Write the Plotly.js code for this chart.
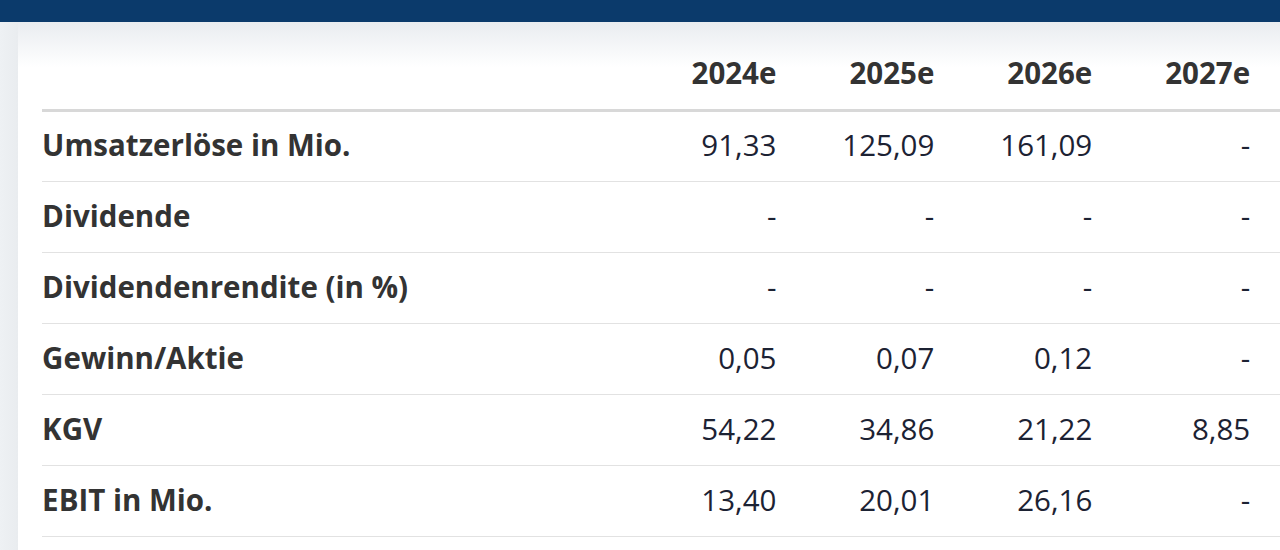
<!DOCTYPE html>
<html>
<head>
<meta charset="utf-8">
<script src="https://cdn.plot.ly/plotly-3.0.1.min.js"></script>
<style>
  html, body { margin: 0; padding: 0; width: 1280px; height: 550px; overflow: hidden; background: #ffffff; }
  #topbar { position: absolute; left: 0; top: 0; width: 1280px; height: 22px; background: #0b3a6b; }
  #strip { position: absolute; left: 0; top: 22px; width: 18px; height: 528px; background: linear-gradient(to right, #eef1f4, #e9ecef); }
  #shadow { position: absolute; left: 18px; top: 22px; width: 1262px; height: 45px; background: linear-gradient(to bottom, #e9ecf0, #ffffff); }
  #chart { position: absolute; left: 0; top: 0; width: 1280px; height: 550px; }
</style>
</head>
<body>
<div id="topbar"></div>
<div id="strip"></div>
<div id="shadow"></div>
<div id="chart"></div>
<script>
// ---- data ----
const years = ["2024e", "2025e", "2026e", "2027e"];
const rowLabels = ["Umsatzerlöse in Mio.", "Dividende", "Dividendenrendite (in %)", "Gewinn/Aktie", "KGV", "EBIT in Mio."];
const umsatz      = [91.33, 125.09, 161.09, null];
const dividende   = [null, null, null, null];
const divRendite  = [null, null, null, null];
const gewinnAktie = [0.05, 0.07, 0.12, null];
const kgv         = [54.22, 34.86, 21.22, 8.85];
const ebit        = [13.40, 20.01, 26.16, null];
const rowValues = [umsatz, dividende, divRendite, gewinnAktie, kgv, ebit];

// ---- helpers ----
function fmt(v) { return (v === null || v === undefined) ? "-" : v.toFixed(2).replace(".", ","); }
const FONT = "Open Sans";
const FSIZE = 29.5;
const colIdx = years.map((_, i) => i + 1);
const TEXT_BASE = 0.54;            // vertical placement of text inside each row band
const rowPos = rowLabels.map((_, i) => i + TEXT_BASE);
const headerPos = -1 + 0.52;

const traces = [];
// header
traces.push({
  type: "scatter", mode: "text", x: colIdx, y: years.map(() => headerPos), text: years,
  textposition: "middle left", xaxis: "x", yaxis: "y", cliponaxis: false,
  textfont: { family: FONT, size: FSIZE, color: "#333333", weight: 700 },
  hoverinfo: "skip", showlegend: false
});
// values
const vx = [], vy = [], vt = [];
rowValues.forEach((vals, r) => vals.forEach((v, c) => { vx.push(colIdx[c]); vy.push(rowPos[r]); vt.push(fmt(v)); }));
traces.push({
  type: "scatter", mode: "text", x: vx, y: vy, text: vt,
  textposition: "middle left", xaxis: "x", yaxis: "y", cliponaxis: false,
  textfont: { family: FONT, size: FSIZE, color: "#1c2233" },
  hoverinfo: "skip", showlegend: false
});
// row labels
traces.push({
  type: "scatter", mode: "text", x: rowLabels.map(() => 0), y: rowPos, text: rowLabels,
  textposition: "middle right", xaxis: "x2", yaxis: "y", cliponaxis: false,
  textfont: { family: FONT, size: FSIZE, color: "#333333", weight: 700 },
  hoverinfo: "skip", showlegend: false
});

const layout = {
  width: 1280, height: 550,
  margin: { l: 42, r: 0, t: 0, b: 0, pad: 0 },
  paper_bgcolor: "rgba(0,0,0,0)", plot_bgcolor: "rgba(0,0,0,0)",
  showlegend: false,
  xaxis: { range: [-3.651, 4.189], showgrid: false, zeroline: false, showticklabels: false, ticks: "", fixedrange: true },
  xaxis2: { overlaying: "x", range: [-0.0001, 1], showgrid: false, zeroline: false, showticklabels: false, ticks: "", fixedrange: true },
  yaxis: {
    range: [(550 - 110.5) / 71, -110.5 / 71],
    tickmode: "array", tickvals: [1, 2, 3, 4, 5, 6],
    showgrid: true, gridcolor: "#e2e2e2", gridwidth: 1.5,
    zeroline: true, zerolinecolor: "#d8d8d8", zerolinewidth: 3,
    showticklabels: false, ticks: "", fixedrange: true
  }
};

Plotly.newPlot("chart", traces, layout, { staticPlot: true, displayModeBar: false });
</script>
</body>
</html>
